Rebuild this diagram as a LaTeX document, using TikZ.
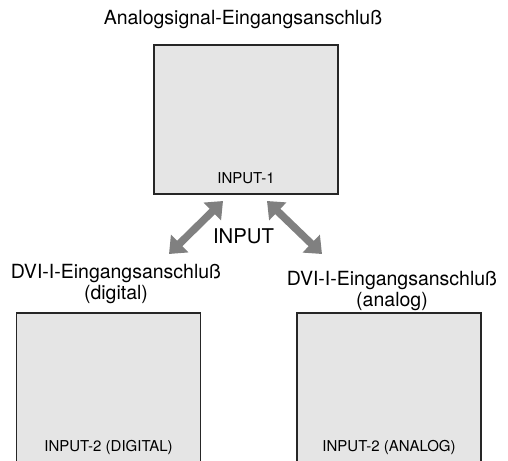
\documentclass[tikz,border=0pt]{standalone}
\usepackage{fontspec}
\setmainfont{TeX Gyre Heros}
\usetikzlibrary{arrows.meta}
\definecolor{portfill}{HTML}{E5E5E5}
\definecolor{arrowgray}{HTML}{808080}
\begin{document}
\begin{tikzpicture}[x=1pt, y=-1pt,
port/.style={draw=black!85, line width=1.3pt, fill=portfill, minimum width=184pt, inner sep=0pt},
caption/.style={font=\fontsize{19.5}{21}\selectfont, align=center, inner sep=0pt},
porttext/.style={font=\fontsize{15}{17}\selectfont, inner sep=0pt},
arrow/.style={{Triangle[width=24pt,length=15pt]}-{Triangle[width=24pt,length=15pt]}, line width=7.5pt, draw=arrowgray}
]
\useasboundingbox (0,0) rectangle (508,460);
\node[caption, anchor=base] (analog) at (243,25) {Analogsignal-Eingangsanschluß};
\node[port, minimum height=149pt] (in1) at (246,119.5) {};
\node[porttext] at (246,178.5) {INPUT-1};
\node[font=\fontsize{20.3}{22}\selectfont, inner sep=0pt] (input) at (243.5,236.5) {INPUT};
\node[caption] (dvid) at (116,284) {DVI-I-Eingangsanschluß\\(digital)};
\node[caption] (dvia) at (392,291) {DVI-I-Eingangsanschluß\\(analog)};
\node[port, minimum height=170pt] (in2d) at (108.5,398) {};
\node[port, minimum height=170pt] (in2a) at (389,398) {};
\node[porttext] at (108.5,447) {INPUT-2 (DIGITAL)};
\node[porttext] at (389,447) {INPUT-2 (ANALOG)};
\coordinate (lt) at (223,201);
\coordinate (lb) at (169,254);
\coordinate (rt) at (267,201);
\coordinate (rb) at (322,254);
\draw[arrow] (lt) -- (lb);
\draw[arrow] (rt) -- (rb);
\end{tikzpicture}
\end{document}
